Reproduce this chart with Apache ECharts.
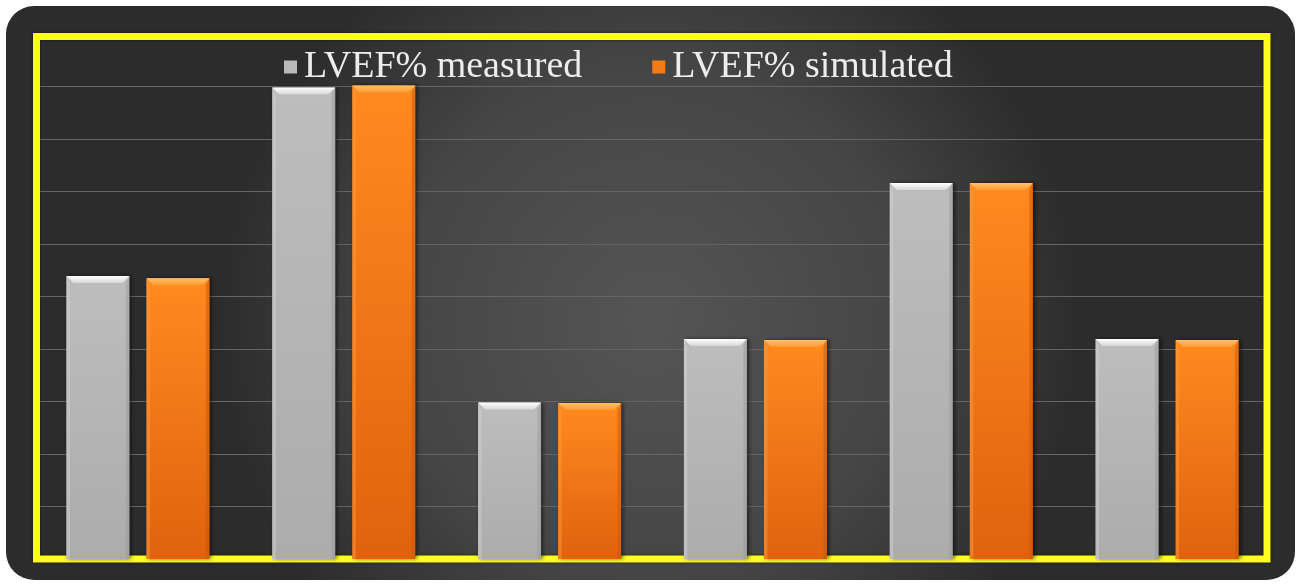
<!DOCTYPE html>
<html>
<head>
<meta charset="utf-8">
<script src="https://cdn.jsdelivr.net/npm/echarts@6/dist/echarts.min.js"></script>
<style>
  html, body { margin: 0; padding: 0; background: #ffffff; }
  #chart { width: 1301px; height: 585px; }
</style>
</head>
<body>
<div id="chart"></div>
<script>
// Left-ventricular ejection fraction per case: measured vs simulated
const categories = ['Case 1', 'Case 2', 'Case 3', 'Case 4', 'Case 5', 'Case 6'];
const measured = [53.9, 89.8, 29.8, 41.9, 71.6, 41.9];
const simulated = [53.5, 90.2, 29.7, 41.7, 71.6, 41.7];
const seriesNames = ['LVEF% measured', 'LVEF% simulated'];

const chart = echarts.init(document.getElementById('chart'), null, { renderer: 'canvas' });

// Bevelled column: body, lighter top chamfer, shaded side edges
const palettes = [
  { body: ['#bdbdbd', '#acacac'], top: ['#ffffff', '#d6d6d6'], left: '#cfcfcf', right: '#9a9a9a' },
  { body: ['#ff8a1f', '#e0620e'], top: ['#ffc06a', '#ff9a30'], left: '#ff9a3a', right: '#c85508' }
];

function makeRender(slot) {
  const pal = palettes[slot];
  return function (params, api) {
    const cat = api.value(0);
    const val = api.value(1);
    const base = api.coord([cat, 0]);
    const top = api.coord([cat, val]);
    const band = api.size([1, 0])[0];
    const w = band * 0.306;
    const gap = band * 0.083;
    const x = base[0] - (2 * w + gap) / 2 + slot * (w + gap);
    const y0 = top[1];
    const h = base[1] - top[1];
    const b = 7;
    return {
      type: 'group',
      children: [
        {
          type: 'rect',
          shape: { x: x, y: y0, width: w, height: h },
          style: {
            fill: new echarts.graphic.LinearGradient(0, 0, 0, 1, [
              { offset: 0, color: pal.body[0] },
              { offset: 1, color: pal.body[1] }
            ]),
            shadowBlur: 4,
            shadowColor: 'rgba(0,0,0,0.55)',
            shadowOffsetX: 2,
            shadowOffsetY: 0
          }
        },
        {
          type: 'polygon',
          shape: { points: [[x, y0], [x + w, y0], [x + w - b, y0 + b], [x + b, y0 + b]] },
          style: {
            fill: new echarts.graphic.LinearGradient(0, 0, 0, 1, [
              { offset: 0, color: pal.top[0] },
              { offset: 1, color: pal.top[1] }
            ])
          }
        },
        {
          type: 'polygon',
          shape: { points: [[x, y0], [x + b * 0.5, y0 + b], [x + b * 0.5, base[1]], [x, base[1]]] },
          style: { fill: pal.left, opacity: 0.5 }
        },
        {
          type: 'polygon',
          shape: { points: [[x + w, y0], [x + w - b * 0.5, y0 + b], [x + w - b * 0.5, base[1]], [x + w, base[1]]] },
          style: { fill: pal.right, opacity: 0.5 }
        }
      ]
    };
  };
}

const option = {
  backgroundColor: '#ffffff',
  animation: false,
  graphic: [
    {
      type: 'rect',
      z: -10,
      shape: { x: 6, y: 6, width: 1289, height: 574, r: 28 },
      style: {
        fill: new echarts.graphic.RadialGradient(0.5, 0.55, 0.75, [
          { offset: 0, color: '#555555' },
          { offset: 0.6, color: '#454545' },
          { offset: 1, color: '#2c2c2c' }
        ])
      }
    },
    {
      type: 'rect',
      z: 1,
      shape: { x: 36.5, y: 36.5, width: 1230.5, height: 522.5 },
      style: {
        fill: 'none',
        stroke: '#ffff1e',
        lineWidth: 7,
        shadowBlur: 3,
        shadowColor: 'rgba(0,0,0,0.6)'
      }
    }
  ],
  legend: {
    data: seriesNames,
    left: 279,
    top: 43,
    icon: 'rect',
    itemWidth: 13,
    itemHeight: 13,
    itemGap: 70,
    textStyle: {
      fontFamily: 'Liberation Serif',
      fontSize: 38,
      color: '#ededed',
      padding: [0, 0, 0, 2]
    }
  },
  grid: { left: 35, top: 34, width: 1235, height: 525, containLabel: false },
  xAxis: {
    type: 'category',
    data: categories,
    axisLine: { show: false },
    axisTick: { show: false },
    axisLabel: { show: false },
    splitLine: { show: false }
  },
  yAxis: {
    type: 'value',
    min: 0,
    max: 100,
    interval: 10,
    axisLine: { show: false },
    axisTick: { show: false },
    axisLabel: { show: false },
    splitLine: { show: true, lineStyle: { color: '#656565', width: 1 } }
  },
  series: [
    {
      name: seriesNames[0],
      type: 'custom',
      z: 5,
      itemStyle: { color: '#b9b9b9' },
      encode: { x: 0, y: 1 },
      data: measured.map((v, i) => [i, v]),
      renderItem: makeRender(0)
    },
    {
      name: seriesNames[1],
      type: 'custom',
      z: 5,
      itemStyle: { color: '#f47c16' },
      encode: { x: 0, y: 1 },
      data: simulated.map((v, i) => [i, v]),
      renderItem: makeRender(1)
    }
  ]
};

chart.setOption(option);
</script>
</body>
</html>
